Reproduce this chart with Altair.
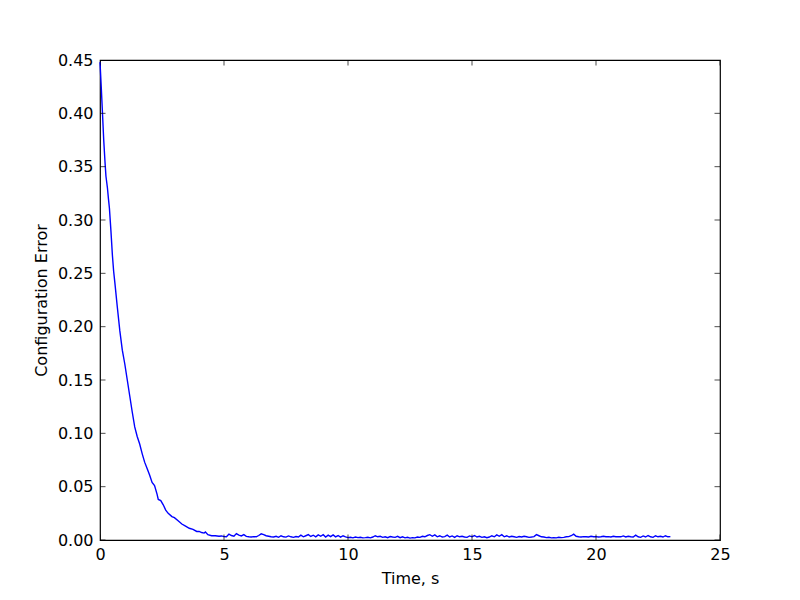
import altair as alt
import pandas as pd
import numpy as np

# Initial decay (time in s, configuration error)
head_time = [0.00, 0.05, 0.10, 0.15, 0.20, 0.24, 0.30, 0.34, 0.38, 0.44, 0.50, 0.55,
             0.60, 0.70, 0.80, 0.90, 1.00, 1.10, 1.20, 1.30, 1.40, 1.50, 1.60, 1.70,
             1.80, 1.90, 2.00, 2.10, 2.20, 2.30, 2.35, 2.45, 2.55, 2.65, 2.75, 2.90,
             3.00, 3.15, 3.30, 3.45, 3.60, 3.75, 3.90, 4.00, 4.10, 4.20, 4.25, 4.35,
             4.50, 4.65, 4.80]
head_error = [0.448, 0.425, 0.400, 0.375, 0.355, 0.341, 0.330, 0.320, 0.311, 0.290, 0.267, 0.252,
              0.241, 0.218, 0.196, 0.178, 0.165, 0.150, 0.135, 0.120, 0.106, 0.097, 0.090, 0.081,
              0.073, 0.067, 0.061, 0.054, 0.051, 0.043, 0.038, 0.037, 0.033, 0.028, 0.025, 0.022,
              0.021, 0.018, 0.015, 0.013, 0.011, 0.010, 0.008, 0.008, 0.007, 0.0065, 0.0075, 0.005,
              0.004, 0.004, 0.0035]

# Noisy steady-state tail, sampled every 0.1 s from 4.9 s (values x 1e-4)
tail_start = 4.9
tail_step = 0.1
tail_error_e4 = [
    38, 32, 30, 55, 42, 35, 60, 45, 38, 50,
    34, 30, 28, 32, 30, 42, 58, 50, 40, 35,
    30, 28, 35, 25, 40, 30, 27, 38, 30, 25,
    32, 28, 45, 30, 40, 50, 33, 45, 30, 48,
    35, 50, 28, 45, 32, 48, 30, 42, 27, 40,
    30, 22, 25, 20, 28, 22, 25, 20, 22, 25,
    20, 28, 40, 30, 35, 25, 30, 22, 32, 28,
    25, 35, 22, 30, 20, 25, 18, 22, 20, 28,
    25, 35, 30, 42, 50, 35, 48, 30, 40, 28,
    32, 45, 28, 38, 25, 40, 30, 35, 28, 25,
    38, 30, 42, 28, 35, 25, 30, 22, 28, 40,
    30, 48, 35, 50, 30, 40, 28, 35, 30, 25,
    32, 28, 35, 30, 25, 28, 32, 50, 40, 30,
    28, 22, 25, 20, 22, 20, 25, 22, 25, 30,
    32, 40, 55, 35, 30, 28, 32, 30, 28, 35,
    30, 32, 28, 30, 35, 30, 32, 28, 35, 30,
    32, 30, 38, 28, 35, 30, 28, 45, 30, 25,
    38, 28, 42, 30, 25, 40, 30, 35, 28, 40,
    30, 32,
]

x_ticks = [0, 5, 10, 15, 20, 25]
y_ticks = [0.00, 0.05, 0.10, 0.15, 0.20, 0.25, 0.30, 0.35, 0.40, 0.45]
x_min, x_max = 0, 25
y_min, y_max = 0.0, 0.45

tail_time = [round(tail_start + tail_step * i, 2) for i in range(len(tail_error_e4))]
tail_error = [v / 10000 for v in tail_error_e4]

df = pd.DataFrame({"t": head_time + tail_time, "err": head_error + tail_error})

W, H = 620, 480
FONT = "DejaVu Sans"

xscale = alt.Scale(domain=[x_min, x_max], nice=False, zero=False)
yscale = alt.Scale(domain=[y_min, y_max], nice=False, zero=False)

line = alt.Chart(df).mark_line(color="#0000ff", strokeWidth=1.4).encode(
    x=alt.X("t:Q", scale=xscale, title="Time, s",
            axis=alt.Axis(values=x_ticks, format="d", ticks=False, domain=False, grid=False,
                          labelPadding=6, titlePadding=8, labelFontSize=16, titleFontSize=16,
                          labelFont=FONT, titleFont=FONT, labelColor="black", titleColor="black",
                          titleFontWeight="normal", labelFlush=False)),
    y=alt.Y("err:Q", scale=yscale, title="Configuration Error",
            axis=alt.Axis(values=y_ticks, format=".2f", ticks=False, domain=False, grid=False,
                          labelPadding=7, titlePadding=8, labelFontSize=16, titleFontSize=16,
                          labelFont=FONT, titleFont=FONT, labelColor="black", titleColor="black",
                          titleFontWeight="normal", labelFlush=False)),
)

xt = pd.DataFrame({"v": x_ticks * 2, "pos": [y_min] * len(x_ticks) + [y_max] * len(x_ticks)})
yt = pd.DataFrame({"v": y_ticks * 2, "pos": [x_min] * len(y_ticks) + [x_max] * len(y_ticks)})

xtick_marks = alt.Chart(xt).mark_tick(orient="vertical", size=11, thickness=1, color="black", clip=True).encode(
    x=alt.X("v:Q", scale=xscale), y=alt.Y("pos:Q", scale=yscale))
ytick_marks = alt.Chart(yt).mark_tick(orient="horizontal", size=11, thickness=1, color="black", clip=True).encode(
    y=alt.Y("v:Q", scale=yscale), x=alt.X("pos:Q", scale=xscale))

chart = alt.layer(line, xtick_marks, ytick_marks).properties(
    width=W, height=H,
    autosize=alt.AutoSizeParams(type="none"),
    padding={"left": 92, "top": 52, "right": 70, "bottom": 50},
).configure(
    background="white",
    view=alt.ViewConfig(stroke="black", strokeWidth=1.2),
)

chart.save("out.html", embed_options={"renderer": "svg", "actions": False})
